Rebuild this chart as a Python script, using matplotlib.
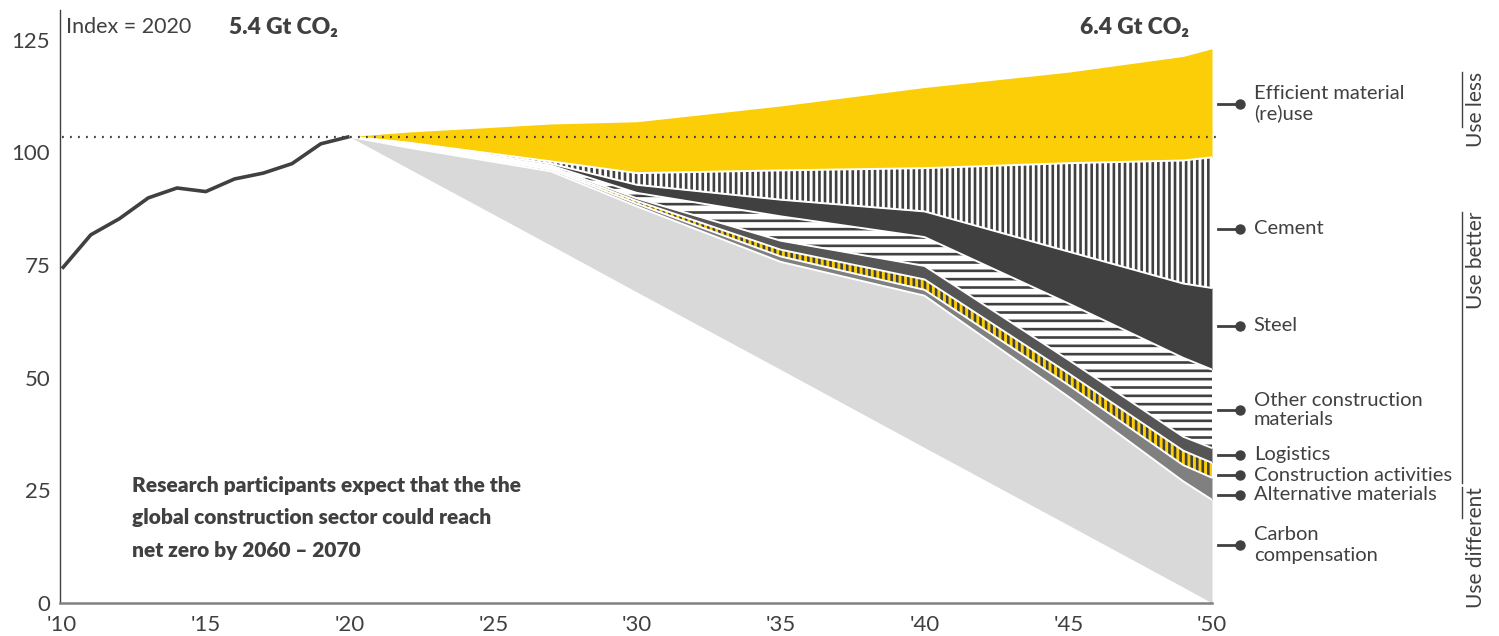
import matplotlib
matplotlib.use("Agg")
import matplotlib.pyplot as plt

plt.rcParams['font.family'] = ['Lato', 'DejaVu Sans']

DARK = "#404040"
YELLOW = "#FBCE07"

# historical emissions, index 2020
hist_years = [2010, 2011, 2012, 2013, 2014, 2015, 2016, 2017, 2018, 2019, 2020]
hist_values = [74.2, 81.7, 85.3, 89.9, 92.1, 91.3, 94.1, 95.4, 97.5, 101.9, 103.5]

# projected pathway: upper edge of each lever band
years = [2020, 2022, 2027, 2030, 2035, 2040, 2045, 2049, 2050]
business_as_usual = [103.5, 104.5, 106.3, 106.8, 110.3, 114.4, 117.8, 121.3, 123.0]
after_reuse = [103.5, 102.2, 98.0, 95.4, 96.0, 96.5, 97.6, 98.2, 98.9]
after_cement = [103.5, 102.0, 97.5, 92.8, 89.5, 86.9, 78.0, 70.9, 69.9]
after_steel = [103.5, 101.8, 97.1, 91.0, 85.8, 81.2, 66.5, 54.4, 51.8]
after_other = [103.5, 101.6, 96.8, 89.8, 80.4, 74.8, 54.0, 36.9, 34.4]
after_logistics = [103.5, 101.5, 96.5, 89.2, 78.4, 71.8, 51.0, 33.8, 31.1]
after_construction = [103.5, 101.3, 96.2, 88.6, 76.9, 69.5, 48.4, 30.6, 27.8]
after_alternative = [103.5, 101.1, 95.8, 88.0, 75.7, 68.2, 45.8, 27.0, 22.9]
net_zero_path = [103.5, 96.6, 79.4, 69.0, 51.8, 34.5, 17.3, 3.5, 0.0]

lever_labels = ["Efficient material\n(re)use", "Cement", "Steel",
                "Other construction\nmaterials", "Logistics",
                "Construction activities", "Alternative materials",
                "Carbon\ncompensation"]
lever_label_y = [110.8, 83.0, 61.5, 42.8, 32.9, 28.4, 24.0, 12.9]

x_ticks = [2010, 2015, 2020, 2025, 2030, 2035, 2040, 2045, 2050]
x_tick_labels = ["'10", "'15", "'20", "'25", "'30", "'35", "'40", "'45", "'50"]
y_ticks = [0, 25, 50, 75, 100, 125]

fig = plt.figure(figsize=(14.99, 6.36), dpi=100)
ax = fig.add_axes([0.04003, 0.0519, 0.76851, 0.9324])
ax.set_xlim(2009.93, 2050)
ax.set_ylim(0, 131.6)

# stacked bands, top to bottom
bands = [
    (business_as_usual, after_reuse, YELLOW, None, DARK),
    (after_reuse, after_cement, "white", "|||", DARK),
    (after_cement, after_steel, DARK, None, DARK),
    (after_steel, after_other, "white", "--", DARK),
    (after_other, after_logistics, "#555555", None, "#555555"),
    (after_logistics, after_construction, YELLOW, "|||", DARK),
    (after_construction, after_alternative, "#808080", None, "#808080"),
    (after_alternative, net_zero_path, "#D9D9D9", None, "#D9D9D9"),
]
for upper, lower, face, hatch, edge in bands:
    plt.rcParams['hatch.linewidth'] = 1.9
    ax.fill_between(years, lower, upper, facecolor=face, hatch=hatch,
                    edgecolor=edge, linewidth=0, zorder=2)

for edge_line in [after_reuse, after_cement, after_steel, after_other,
                  after_logistics, after_construction, after_alternative]:
    ax.plot(years, edge_line, color="white", lw=1.4, zorder=3)

# 2020 reference level
ax.plot([2010, 2050.2], [hist_values[-1], hist_values[-1]], color=DARK,
        lw=1.6, dashes=(0.8, 2.8), zorder=5, clip_on=False)
ax.plot(hist_years, hist_values, color=DARK, lw=2.6, zorder=5,
        solid_capstyle="butt")

# lever labels with pointer dots
for label, y in zip(lever_labels, lever_label_y):
    ax.plot([2050.2, 2050.97], [y, y], color=DARK, lw=2, clip_on=False)
    ax.plot([2050.97], [y], "o", color=DARK, ms=6.5, clip_on=False)
    spacing = 1.3 if label.startswith("Carbon") else 1.12
    ax.text(2051.45, y, label, fontsize=14.5, color=DARK, va="center",
            ha="left", linespacing=spacing)

# group brackets
groups = [("Use less", 117.8, 105.7), ("Use better", 86.8, 26.6),
          ("Use different", 25.8, 18.8)]
for name, top, bottom in groups:
    ax.plot([2058.7, 2058.7], [top, bottom], color=DARK, lw=1, clip_on=False)
    ax.text(2059.2, top, name, rotation=90, fontsize=15, color=DARK,
            ha="center", va="top")

ax.text(2010.15, 127.8, "Index = 2020", fontsize=15.5, color=DARK,
        va="center", ha="left")
ax.text(2015.8, 127.8, "5.4 Gt CO₂", fontsize=16.5, fontweight="heavy",
        color=DARK, va="center", ha="left")
ax.text(2049.2, 127.8, "6.4 Gt CO₂", fontsize=16.5, fontweight="heavy",
        color=DARK, va="center", ha="right")
ax.text(2012.45, 18.9,
        "Research participants expect that the the\n"
        "global construction sector could reach\n"
        "net zero by 2060 \u2013 2070",
        fontsize=15, fontweight="heavy", color=DARK, va="center", ha="left",
        linespacing=1.83)

ax.set_xticks(x_ticks)
ax.set_xticklabels(x_tick_labels)
ax.set_yticks(y_ticks)
ax.tick_params(axis="both", length=0, labelsize=16, labelcolor=DARK)
ax.tick_params(axis="y", pad=7)
ax.tick_params(axis="x", pad=9)
ax.spines['right'].set_visible(False)
ax.spines['top'].set_visible(False)
ax.spines['left'].set_color(DARK)
ax.spines['left'].set_linewidth(1)
ax.spines['bottom'].set_color("#808080")
ax.spines['bottom'].set_linewidth(1.8)

fig.savefig("out.png", dpi=100)
